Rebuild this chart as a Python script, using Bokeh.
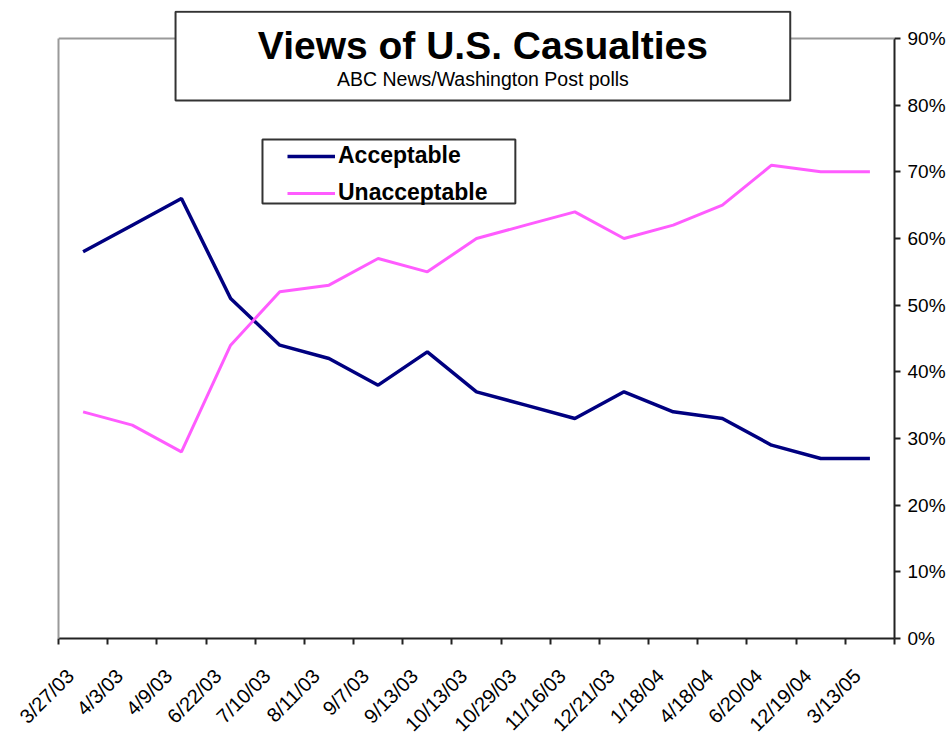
import math
from bokeh.plotting import figure
from bokeh.models import (Range1d, LinearAxis, FixedTicker, SingleIntervalTicker,
                          PrintfTickFormatter, BoxAnnotation, Label, Legend, LegendItem,
                          ColumnDataSource, Span)
from bokeh.embed import file_html
from bokeh.resources import INLINE

# ---- data -------------------------------------------------------------
dates = ["3/27/03", "4/3/03", "4/9/03", "6/22/03", "7/10/03", "8/11/03", "9/7/03",
         "9/13/03", "10/13/03", "10/29/03", "11/16/03", "12/21/03", "1/18/04",
         "4/18/04", "6/20/04", "12/19/04", "3/13/05"]
acceptable = [58, 62, 66, 51, 44, 42, 38, 43, 37, 35, 33, 37, 34, 33, 29, 27, 27]
unacceptable = [34, 32, 28, 44, 52, 53, 57, 55, 60, 62, 64, 60, 62, 65, 71, 70, 70]
series_names = ["Acceptable", "Unacceptable"]
title_text = "Views of U.S. Casualties"
subtitle_text = "ABC News/Washington Post polls"
y_max = 90          # value axis runs 0 % .. 90 %

# category slots: point at centre of each slot, ticks at slot boundaries
n = len(dates)
centers = [i + 0.5 for i in range(n)]
bounds = [float(i) for i in range(n + 1)]
label_pos = [i + 0.24 for i in range(n)]   # rotated labels sit a little left of centre

src = ColumnDataSource(dict(x=centers, acc=acceptable, unacc=unacceptable, date=dates))

FONT = "Liberation Sans"

# frame extends above 90 % so that the title box can overlap the plot border
p = figure(frame_width=836, frame_height=628,
           x_range=Range1d(0, n), y_range=Range1d(0, 94.2),
           y_axis_location="right",
           output_backend="svg", toolbar_location=None,
           min_border_left=58, min_border_top=10, min_border_right=0, min_border_bottom=0,
           background_fill_color="white", border_fill_color="white")
p.outline_line_color = None
p.xgrid.visible = False
p.ygrid.visible = False

# bottom (category) axis
xa = p.xaxis[0]
xa.ticker = FixedTicker(ticks=label_pos, minor_ticks=bounds)
xa.major_label_overrides = {c: d for c, d in zip(label_pos, dates)}
xa.major_tick_line_color = None
xa.major_tick_out = 6
xa.minor_tick_line_color = "#222222"
xa.minor_tick_line_width = 2
xa.minor_tick_out = 6
xa.minor_tick_in = 0
xa.axis_line_color = "#222222"
xa.axis_line_width = 2
xa.major_label_orientation = math.pi / 4
xa.major_label_standoff = 28
xa.major_label_text_font = FONT
xa.major_label_text_font_size = "20px"
xa.major_label_text_color = "black"

# right value axis (line stops at 90 %)
ya = p.yaxis[0]
ya.bounds = (0, y_max)
ya.ticker = SingleIntervalTicker(interval=10, num_minor_ticks=0)
ya.formatter = PrintfTickFormatter(format="%d%%")
ya.axis_line_color = "#222222"
ya.axis_line_width = 2
ya.major_tick_line_color = "#222222"
ya.major_tick_line_width = 2
ya.major_tick_out = 6
ya.major_tick_in = 0
ya.minor_tick_line_color = None
ya.major_label_standoff = 7
ya.major_label_text_font = FONT
ya.major_label_text_font_size = "19px"
ya.major_label_text_color = "black"

# gray plot-area border: left side and top (at 90 %)
left_border = LinearAxis(ticker=FixedTicker(ticks=[]), bounds=(0, y_max),
                         axis_line_color="#9a9a9a", axis_line_width=2,
                         major_tick_line_color=None, minor_tick_line_color=None,
                         major_tick_out=0, major_label_standoff=0)
p.add_layout(left_border, "left")
p.add_layout(Span(location=y_max, dimension="width", line_color="#9a9a9a", line_width=2))

r_acc = p.line("x", "acc", source=src, line_color="#000080", line_width=3.5)
r_unacc = p.line("x", "unacc", source=src, line_color="#ff5cff", line_width=3)

# title box and texts
p.add_layout(BoxAnnotation(left=2.38, right=14.88, bottom=80.7, top=94.0,
                           fill_color="white", fill_alpha=1.0,
                           line_color="#333333", line_alpha=1.0, line_width=2,
                           level="annotation"))
p.add_layout(Label(x=8.63, y=88.95, text=title_text, text_align="center",
                   text_baseline="alphabetic", text_font=FONT, text_font_size="39px",
                   text_font_style="bold", text_color="black"))
p.add_layout(Label(x=8.63, y=84.0, text=subtitle_text, text_align="center",
                   text_baseline="alphabetic", text_font=FONT, text_font_size="19.5px",
                   text_color="black"))

# legend box + legend
p.add_layout(BoxAnnotation(left=4.148, right=9.29, bottom=65.25, top=74.85,
                           fill_color="white", fill_alpha=1.0,
                           line_color="#333333", line_alpha=1.0, line_width=2,
                           level="annotation"))
legend = Legend(items=[LegendItem(label=series_names[0], renderers=[r_acc]),
                       LegendItem(label=series_names[1], renderers=[r_unacc])],
                location=(229, 432), padding=5, spacing=10,
                glyph_width=48, glyph_height=26, label_height=26, label_standoff=3,
                border_line_color=None, background_fill_alpha=0.0,
                label_text_font=FONT, label_text_font_size="23px",
                label_text_font_style="bold", label_text_color="black")
p.add_layout(legend, "center")

open("out.html", "w").write(file_html(p, INLINE))
